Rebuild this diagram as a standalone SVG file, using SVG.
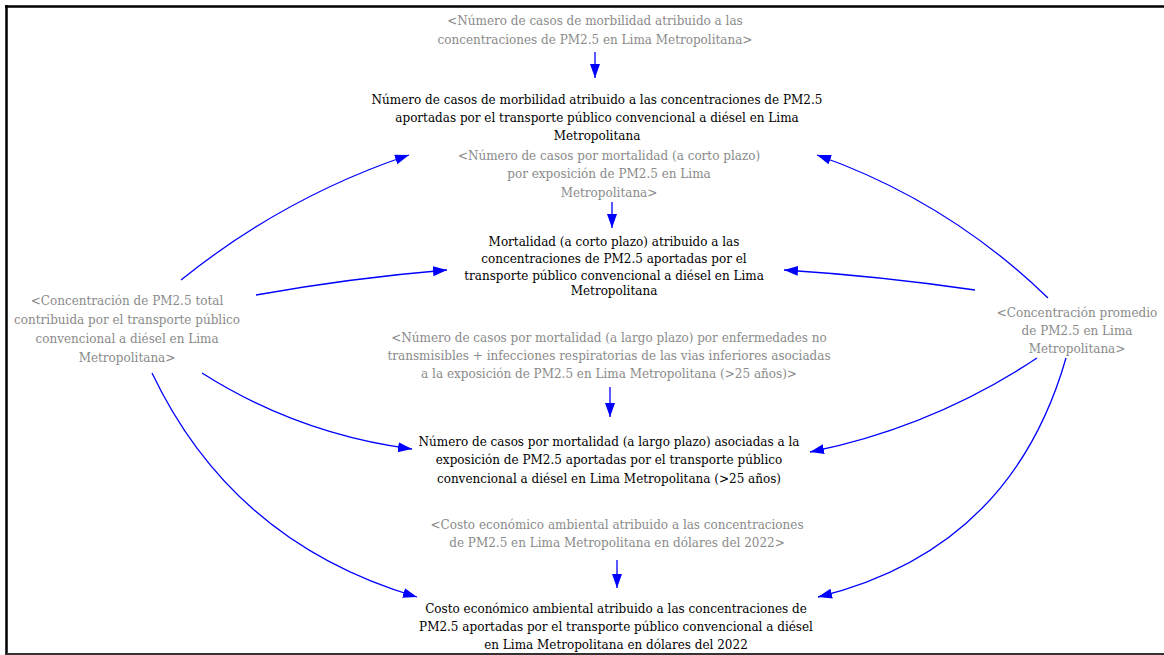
<svg xmlns="http://www.w3.org/2000/svg" width="1164" height="655" viewBox="0 0 1164 655">
<defs>
<marker id="ah" markerUnits="userSpaceOnUse" markerWidth="15" markerHeight="11" refX="14" refY="5" orient="auto">
<path d="M0,0 L14,5 L0,10 z" fill="#0000ff"/>
</marker>
<style>
text{font-family:"DejaVu Serif","Liberation Serif",serif;font-size:12px;text-anchor:middle}
.g{fill:#8a8a8a}
.b{fill:#000}
.c path,.c line{fill:none;stroke:#0000ff;stroke-width:1.3;marker-end:url(#ah)}
</style>
</defs>
<rect x="0" y="0" width="1164" height="655" fill="#fff"/>
<g id="frame" fill="none">
<line x1="5" y1="6.5" x2="1164" y2="6.5" stroke="#000" stroke-width="2.5"/>
<line x1="6.5" y1="5" x2="6.5" y2="655" stroke="#000" stroke-width="2.5"/>
<line x1="5" y1="654" x2="1164" y2="654" stroke="#333" stroke-width="2"/>
</g>
<g id="connectors" class="c">
<line x1="595" y1="52" x2="595" y2="78"/>
<line x1="612" y1="202" x2="612" y2="228"/>
<line x1="610" y1="387" x2="610" y2="417"/>
<line x1="617" y1="560" x2="617" y2="588"/>
<path d="M181,280 Q284,197 409,155"/>
<path d="M256,295 Q351,278 447,270"/>
<path d="M202,373 Q298,434 412,449"/>
<path d="M152,373 Q233,543 417,597"/>
<path d="M1048,298 Q948,201 817,155"/>
<path d="M975,290 Q879,276 784,270"/>
<path d="M1037,358 Q933,427 810,452"/>
<path d="M1066,358 Q1011,550 818,597"/>
</g>
<g id="n_morb_src" class="g">
<text x="595" y="25">&lt;Número de casos de morbilidad atribuido a las</text>
<text x="595" y="44">concentraciones de PM2.5 en Lima Metropolitana&gt;</text>
</g>
<g id="n_morb" class="b">
<text x="597" y="104">Número de casos de morbilidad atribuido a las concentraciones de PM2.5</text>
<text x="597" y="122">aportadas por el transporte público convencional a diésel en Lima</text>
<text x="597" y="140">Metropolitana</text>
</g>
<g id="n_mort_cp_src" class="g">
<text x="609" y="160">&lt;Número de casos por mortalidad (a corto plazo)</text>
<text x="609" y="178">por exposición de PM2.5 en Lima</text>
<text x="609" y="197">Metropolitana&gt;</text>
</g>
<g id="n_mort_cp" class="b">
<text x="614" y="246">Mortalidad (a corto plazo) atribuido a las</text>
<text x="614" y="263">concentraciones de PM2.5 aportadas por el</text>
<text x="614" y="280">transporte público convencional a diésel en Lima</text>
<text x="614" y="295">Metropolitana</text>
</g>
<g id="n_mort_lp_src" class="g">
<text x="609" y="342">&lt;Número de casos por mortalidad (a largo plazo) por enfermedades no</text>
<text x="609" y="360">transmisibles + infecciones respiratorias de las vias inferiores asociadas</text>
<text x="609" y="378">a la exposición de PM2.5 en Lima Metropolitana (&gt;25 años)&gt;</text>
</g>
<g id="n_mort_lp" class="b">
<text x="609" y="446">Número de casos por mortalidad (a largo plazo) asociadas a la</text>
<text x="609" y="464">exposición de PM2.5 aportadas por el transporte público</text>
<text x="609" y="483">convencional a diésel en Lima Metropolitana (&gt;25 años)</text>
</g>
<g id="n_costo_src" class="g">
<text x="617" y="529">&lt;Costo económico ambiental atribuido a las concentraciones</text>
<text x="617" y="547">de PM2.5 en Lima Metropolitana en dólares del 2022&gt;</text>
</g>
<g id="n_costo" class="b">
<text x="616" y="613">Costo económico ambiental atribuido a las concentraciones de</text>
<text x="616" y="631">PM2.5 aportadas por el transporte público convencional a diésel</text>
<text x="616" y="649">en Lima Metropolitana en dólares del 2022</text>
</g>
<g id="n_conc_total" class="g">
<text x="127" y="305">&lt;Concentración de PM2.5 total</text>
<text x="127" y="324">contribuida por el transporte público</text>
<text x="127" y="343">convencional a diésel en Lima</text>
<text x="127" y="362">Metropolitana&gt;</text>
</g>
<g id="n_conc_prom" class="g">
<text x="1077" y="317">&lt;Concentración promedio</text>
<text x="1077" y="335">de PM2.5 en Lima</text>
<text x="1077" y="353">Metropolitana&gt;</text>
</g>
</svg>
